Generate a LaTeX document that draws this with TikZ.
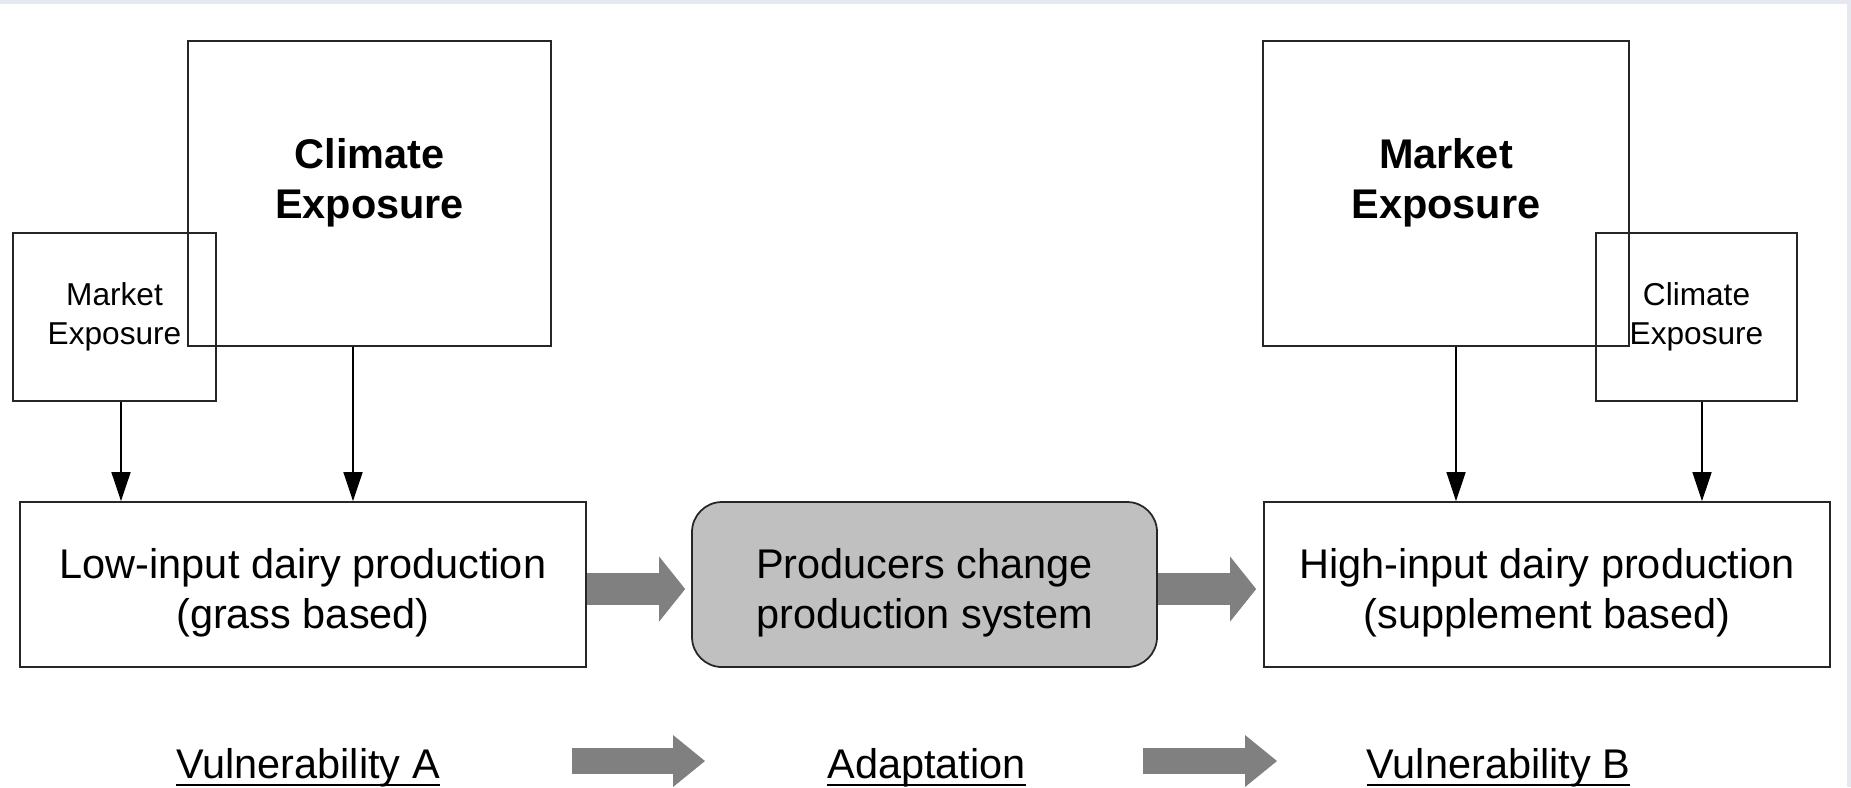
\documentclass[tikz,border=0pt]{standalone}
\usepackage{fontspec}
\setmainfont{Liberation Sans}
\usetikzlibrary{arrows.meta,positioning}

\definecolor{arrgray}{RGB}{128,128,128}
\definecolor{prodgray}{RGB}{192,192,192}
\definecolor{edgegray}{RGB}{229,232,239}

% underlined label text
\newcommand{\ulabel}[1]{\setbox0\hbox{#1}\rlap{\rule[-2.3pt]{\wd0}{0.6pt}}\box0}

\begin{document}
\begin{tikzpicture}[
    expbox/.style={draw=black!85, line width=0.5pt, inner sep=0pt},
    bigtxt/.style={align=center, font=\fontsize{11.8}{14.3}\selectfont\bfseries},
    smalltxt/.style={align=center, font=\fontsize{9}{11}\selectfont},
    prodbox/.style={draw=black!85, line width=0.5pt, minimum height=1.65cm, text height=27.6pt,
      align=center, font=\fontsize{11.8}{14.4}\selectfont},
    lbl/.style={anchor=base, inner sep=0pt, font=\fontsize{11.8}{14}\selectfont},
    arr/.style={line width=0.45pt, -{Triangle[length=0.29cm,width=0.19cm]}},
    blockarr/.style={draw=arrgray, line width=#1, -{Triangle[length=0.26cm,width=0.65cm,line width=0pt]}},
    blockarr/.default=0.32cm
  ]
  \useasboundingbox (0,0) rectangle (18.51,-7.87);
  \fill[edgegray] (0,0) rectangle (18.51,-0.04);
  \fill[edgegray] (18.47,0) rectangle (18.51,-7.87);

  % exposure boxes, left side
  \node[expbox, minimum width=3.63cm, minimum height=3.05cm] (climL) at (3.695,-1.935) {};
  \node[bigtxt] (climLtxt) at ([yshift=0.11cm]climL.center) {Climate\\Exposure};
  \node[expbox, smalltxt, minimum width=2.03cm, minimum height=1.68cm] (markL) at (1.145,-3.17) {Market\\Exposure};

  % exposure boxes, right side
  \node[expbox, minimum width=3.66cm, minimum height=3.05cm] (markR) at (14.46,-1.935) {};
  \node[bigtxt] (markRtxt) at ([yshift=0.11cm]markR.center) {Market\\Exposure};
  \node[expbox, smalltxt, minimum width=2.01cm, minimum height=1.68cm] (climR) at (16.965,-3.17) {Climate\\Exposure};

  % production systems
  \node[prodbox, minimum width=5.66cm] (low) at (3.03,-5.845) {Low-input dairy production\\(grass based)};
  \node[prodbox, minimum width=4.65cm, fill=prodgray, rounded corners=0.3cm] (change) at (9.245,-5.845) {Producers change\\production system};
  \node[prodbox, minimum width=5.66cm] (high) at (15.47,-5.845) {High-input dairy production\\(supplement based)};

  \draw[arr] ([xshift=0.065cm]markL.south) -- ([xshift=0.065cm]markL.south |- low.north);
  \draw[arr] ([xshift=-0.165cm]climL.south) -- ([xshift=-0.165cm]climL.south |- low.north);
  \draw[arr] ([xshift=0.1cm]markR.south) -- ([xshift=0.1cm]markR.south |- high.north);
  \draw[arr] ([xshift=0.055cm]climR.south) -- ([xshift=0.055cm]climR.south |- high.north);

  \draw[blockarr] ([yshift=-0.045cm]low.east) -- ([xshift=-0.06cm,yshift=-0.045cm]change.west);
  \draw[blockarr] ([yshift=-0.045cm]change.east) -- ([xshift=-0.07cm,yshift=-0.045cm]high.west);

  % bottom row
  \node[lbl] (vulnA) at (3.08,-7.78) {\ulabel{Vulnerability A}};
  \node[lbl] (adapt) at (9.265,-7.78) {\ulabel{Adaptation}};
  \node[lbl] (vulnB) at (14.985,-7.78) {\ulabel{Vulnerability B}};

  \coordinate (a1) at (5.72,-7.61);
  \coordinate (a2) at (7.05,-7.61);
  \coordinate (b1) at (11.43,-7.61);
  \coordinate (b2) at (12.77,-7.61);
  \draw[blockarr=0.26cm, -{Triangle[length=0.32cm,width=0.52cm,line width=0pt]}] (a1) -- (a2);
  \draw[blockarr=0.26cm, -{Triangle[length=0.32cm,width=0.52cm,line width=0pt]}] (b1) -- (b2);
\end{tikzpicture}
\end{document}
